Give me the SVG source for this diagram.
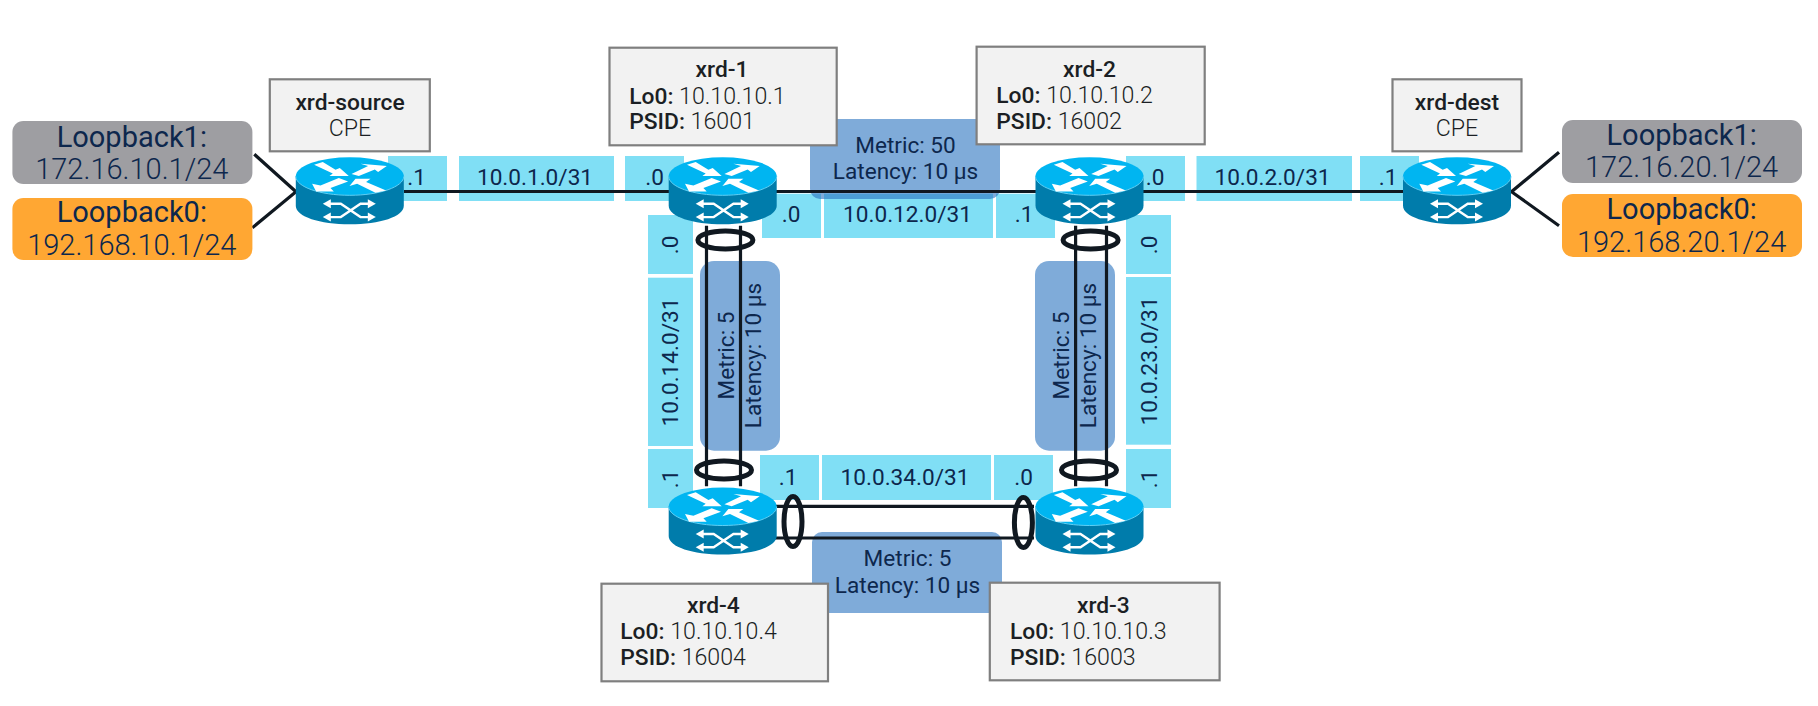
<svg xmlns="http://www.w3.org/2000/svg" xmlns:xlink="http://www.w3.org/1999/xlink" width="1818" height="706" viewBox="0 0 1818 706">
<style>
text{font-family:Roboto,"Liberation Sans",Arial,sans-serif;font-weight:300;fill:#1b1f24}
.m{text-anchor:middle}
.b{font-weight:400}
.n{font-size:23.200px}
.n.b,.n .b{font-weight:500;font-size:22.800px}
.l{font-size:22.600px;fill:#0d274d;text-anchor:middle;font-weight:400}
.t{font-size:22.600px;fill:#0d274d;text-anchor:middle;font-weight:400}
.p{font-size:29px;fill:#0d274d;text-anchor:middle}
.c{fill:#80dff5}
.w{fill:#2a73c0;fill-opacity:.6}
.box{fill:#f2f2f2;stroke:#7f7f7f;stroke-width:2.2}
.ln{fill:none;stroke:#101820;stroke-width:3.2}
.el{fill:none;stroke:#101820;stroke-width:5}
.ico{fill:#fff}
.ics{fill:none;stroke:#fff;stroke-width:2.400}
</style>
<defs>
<g id="router">
<path d="M-54 -15V15C-54 26 -30 33.500 0 33.500S54 26 54 15V-15Z" fill="#007cab"/>
<ellipse cx="0" cy="-14.500" rx="54" ry="19" fill="#00b5f1"/>
<path d="M-54 -14.500C-54 -4 -30 4.500 0 4.500S54 -4 54 -14.500" fill="none" stroke="#5fd0f5" stroke-width="1"/>
<polygon class="ico" points="-35.700,-26 -27,-28.700 -14.300,-21 -10,-22.700 -1,-14.700 -20.300,-14.700 -17,-17.300"/>
<polygon class="ico" points="1.700,-16.700 18.300,-24.700 10.700,-27 37,-24.700 28.300,-18.700 25,-21.300 9,-14.700"/>
<polygon class="ico" points="-11,-12.700 -1.700,-9.300 -19.300,-2.700 -16,.7 -33.700,.7 -37.700,-7 -29.300,-5.300"/>
<polygon class="ico" points="-.3,-4.700 5.700,-12 20.700,-12 16.300,-8.700 36.300,-.3 25.700,2 7.300,-7"/>
<path class="ics" d="M-22 13H-9L10.700 26.300H21M-22 26.300H-9L10.700 13H21"/>
<polygon class="ico" points="-27,13 -19,8.500 -19,17.500"/><polygon class="ico" points="26,13 18,8.500 18,17.500"/>
<polygon class="ico" points="-27,26.300 -19,21.800 -19,30.800"/><polygon class="ico" points="26,26.300 18,21.800 18,30.800"/>
</g>
</defs>
<rect width="1818" height="706" fill="#fff"/>
<g id="link-labels">
<rect class="c" x="388" y="156" width="59" height="45"/><text class="l" x="416.500" y="185">.1</text>
<rect class="c" x="459" y="156" width="155" height="45"/><text class="l" x="535" y="185">10.0.1.0/31</text>
<rect class="c" x="625" y="156" width="59" height="45"/><text class="l" x="654.500" y="185">.0</text>
<rect class="c" x="762" y="193.700" width="59" height="44.300"/><text class="l" x="791" y="221.700">.0</text>
<rect class="c" x="824" y="193.700" width="169" height="44.300"/><text class="l" x="907.500" y="221.700">10.0.12.0/31</text>
<rect class="c" x="996" y="193.700" width="59" height="44.300"/><text class="l" x="1024" y="221.700">.1</text>
<rect class="c" x="1126" y="156" width="59" height="45"/><text class="l" x="1155" y="185">.0</text>
<rect class="c" x="1196.500" y="156" width="155.500" height="45"/><text class="l" x="1272.500" y="185">10.0.2.0/31</text>
<rect class="c" x="1360" y="156" width="59" height="45"/><text class="l" x="1388" y="185">.1</text>
<rect class="c" x="648" y="215" width="45" height="59"/><text class="l" transform="translate(678 245) rotate(-90)">.0</text>
<rect class="c" x="648" y="277.700" width="45" height="168.300"/><text class="l" transform="translate(678 362) rotate(-90)">10.0.14.0/31</text>
<rect class="c" x="648" y="449" width="45" height="59"/><text class="l" transform="translate(678 479) rotate(-90)">.1</text>
<rect class="c" x="1126" y="215" width="45" height="59"/><text class="l" transform="translate(1157 245) rotate(-90)">.0</text>
<rect class="c" x="1126" y="277" width="45" height="167.700"/><text class="l" transform="translate(1157 361) rotate(-90)">10.0.23.0/31</text>
<rect class="c" x="1126" y="449" width="45" height="59"/><text class="l" transform="translate(1157 479) rotate(-90)">.1</text>
<rect class="c" x="760" y="455" width="59" height="45"/><text class="l" x="788" y="484.700">.1</text>
<rect class="c" x="822" y="455" width="169" height="45"/><text class="l" x="905" y="484.700">10.0.34.0/31</text>
<rect class="c" x="994" y="455" width="59" height="45"/><text class="l" x="1023.500" y="484.700">.0</text>
</g>
<g id="metrics">
<rect class="w" x="810" y="119" width="190" height="80" rx="10"/>
<text class="t" x="905.500" y="152.700">Metric: 50</text><text class="t" x="905.500" y="179">Latency: 10 µs</text>
<rect class="w" x="812" y="532" width="190" height="81" rx="10"/>
<text class="t" x="907.500" y="566.300">Metric: 5</text><text class="t" x="907.500" y="593">Latency: 10 µs</text>
<rect class="w" x="700" y="261" width="80" height="189.700" rx="14"/>
<text class="t" transform="translate(734.300 355.500) rotate(-90)">Metric: 5</text><text class="t" transform="translate(760.600 355.500) rotate(-90)">Latency: 10 µs</text>
<rect class="w" x="1035" y="261" width="80" height="189.700" rx="14"/>
<text class="t" transform="translate(1069 355.500) rotate(-90)">Metric: 5</text><text class="t" transform="translate(1096 355.500) rotate(-90)">Latency: 10 µs</text>
</g>
<g id="connectors">
<path class="ln" d="M254.300 154.300L296 191.700L252.400 227.700"/>
<path class="ln" d="M1559 152.300L1511.500 191.700L1559 225.700"/>
<path class="ln" d="M404 191.500H1403"/>
<path class="ln" d="M706.500 225.700V486.300M740.500 225.700V486.300M1075.600 225.700V486.300M1106.500 225.700V486.300"/>
<path class="ln" d="M773 506.300H1034M773 538H1034"/>
<ellipse class="el" cx="725.400" cy="240" rx="27.500" ry="9"/>
<ellipse class="el" cx="1090.600" cy="240" rx="27.500" ry="9"/>
<ellipse class="el" cx="724" cy="470" rx="27.500" ry="9"/>
<ellipse class="el" cx="1089" cy="470" rx="27.500" ry="9"/>
<ellipse class="el" cx="793" cy="521.500" rx="9" ry="25"/>
<ellipse class="el" cx="1023.400" cy="522.500" rx="9" ry="25"/>
</g>
<g id="lo1-source"><rect x="12.400" y="121" width="240" height="63" rx="11" fill="#9e9ea2"/>
<text class="p b" x="131.800" y="146.700">Loopback1:</text><text class="p" x="131.800" y="179">172.16.10.1/24</text></g>
<g id="lo0-source"><rect x="12.400" y="198" width="240" height="62" rx="11" fill="#ffa733"/>
<text class="p b" x="131.800" y="222.300">Loopback0:</text><text class="p" x="131.800" y="255">192.168.10.1/24</text></g>
<g id="lo1-dest"><rect x="1562" y="120" width="240" height="63" rx="11" fill="#9e9ea2"/>
<text class="p b" x="1681.600" y="145">Loopback1:</text><text class="p" x="1681.600" y="177.300">172.16.20.1/24</text></g>
<g id="lo0-dest"><rect x="1562" y="194" width="240" height="63" rx="11" fill="#ffa733"/>
<text class="p b" x="1681.600" y="219">Loopback0:</text><text class="p" x="1681.600" y="251.700">192.168.20.1/24</text></g>
<g id="xrd-source"><use xlink:href="#router" href="#router" transform="translate(349.800 190.800)"/>
<rect class="box" x="269.800" y="79.300" width="160" height="72"/>
<text class="n b m" x="350" y="110">xrd-source</text><text class="n m" x="350" y="135.700">CPE</text></g>
<g id="xrd-1"><use xlink:href="#router" href="#router" transform="translate(722.700 190.800)"/>
<rect class="box" x="609.500" y="47.700" width="227.200" height="97.600"/>
<text class="n b m" x="722" y="77.300">xrd-1</text>
<text class="n" x="629.200" y="104"><tspan class="b">Lo0:</tspan> 10.10.10.1</text>
<text class="n" x="629.200" y="129.300"><tspan class="b">PSID:</tspan> 16001</text></g>
<g id="xrd-2"><use xlink:href="#router" href="#router" transform="translate(1089.500 190.800)"/>
<rect class="box" x="976.600" y="46.700" width="228.100" height="97.600"/>
<text class="n b m" x="1089.500" y="76.700">xrd-2</text>
<text class="n" x="996.300" y="103.300"><tspan class="b">Lo0:</tspan> 10.10.10.2</text>
<text class="n" x="996.300" y="128.700"><tspan class="b">PSID:</tspan> 16002</text></g>
<g id="xrd-dest"><use xlink:href="#router" href="#router" transform="translate(1457 190.800)"/>
<rect class="box" x="1392.500" y="79.300" width="129" height="72"/>
<text class="n b m" x="1457" y="110">xrd-dest</text><text class="n m" x="1457" y="135.700">CPE</text></g>
<g id="xrd-4"><use xlink:href="#router" href="#router" transform="translate(722.700 521)"/>
<rect class="box" x="601.500" y="583.700" width="226.500" height="97.600"/>
<text class="n b m" x="713.400" y="612.700">xrd-4</text>
<text class="n" x="620.300" y="639"><tspan class="b">Lo0:</tspan> 10.10.10.4</text>
<text class="n" x="620.300" y="664.700"><tspan class="b">PSID:</tspan> 16004</text></g>
<g id="xrd-3"><use xlink:href="#router" href="#router" transform="translate(1089.500 521)"/>
<rect class="box" x="989.800" y="582.700" width="229.800" height="97.600"/>
<text class="n b m" x="1103.400" y="612.700">xrd-3</text>
<text class="n" x="1010" y="639"><tspan class="b">Lo0:</tspan> 10.10.10.3</text>
<text class="n" x="1010" y="664.700"><tspan class="b">PSID:</tspan> 16003</text></g>
</svg>
